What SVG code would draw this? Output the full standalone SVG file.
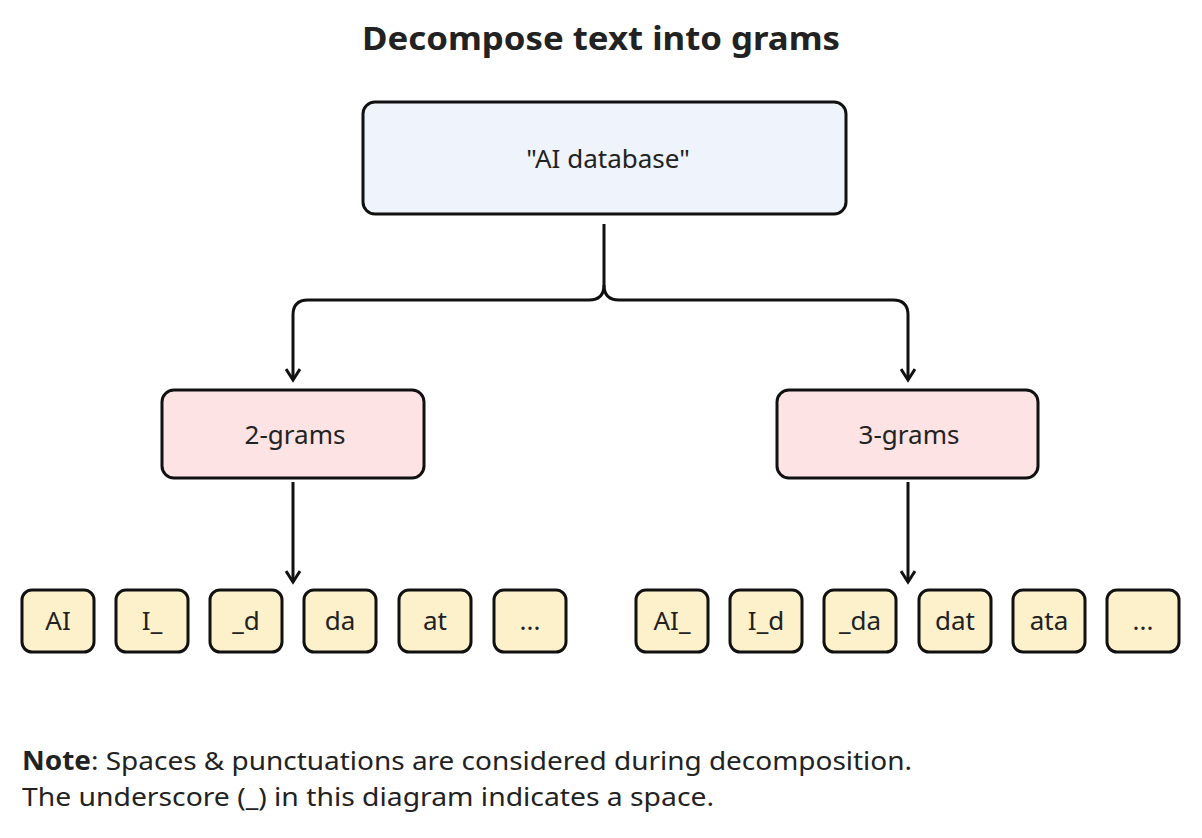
<svg xmlns="http://www.w3.org/2000/svg" width="1202" height="838" viewBox="0 0 1202 838">
<style>
text{font-family:"Noto Sans","Liberation Sans",sans-serif;fill:#222}
.t{font-size:26px;text-anchor:middle;dominant-baseline:central}
.g{fill:#fdf1cc;stroke:#111;stroke-width:3}
.c{fill:none;stroke:#111;stroke-width:3}
</style>
<defs><marker id="a" markerWidth="16" markerHeight="16" refX="12" refY="8" orient="auto" markerUnits="userSpaceOnUse"><path d="M1,1 L12,8 L1,15" fill="none" stroke="#111" stroke-width="3"/></marker></defs>
<text x="601" y="37" class="t" style="font-size:33px;font-weight:bold" textLength="478" lengthAdjust="spacingAndGlyphs">Decompose text into grams</text>
<g id="connectors">
<path class="c" d="M604,224 V285 Q604,300 589,300 H308 Q293,300 293,315 V380" marker-end="url(#a)"/>
<path class="c" d="M604,285 Q604,300 619,300 H893 Q908,300 908,315 V380" marker-end="url(#a)"/>
<path class="c" d="M293,482 V582" marker-end="url(#a)"/>
<path class="c" d="M908,482 V582" marker-end="url(#a)"/>
</g>
<g id="root"><rect x="363" y="102" width="483" height="112" rx="12" fill="#eef3fc" stroke="#111" stroke-width="3"/><text x="608" y="158" class="t">"AI database"</text></g>
<g id="n2"><rect x="162" y="390" width="262" height="88" rx="12" fill="#fde3e3" stroke="#111" stroke-width="3"/><text x="295" y="434" class="t">2-grams</text></g>
<g id="n3"><rect x="777" y="390" width="261" height="88" rx="12" fill="#fde3e3" stroke="#111" stroke-width="3"/><text x="909" y="434" class="t">3-grams</text></g>
<g id="l1"><rect class="g" x="22" y="590" width="72" height="62" rx="10"/><text x="58" y="620" class="t">AI</text></g>
<g id="l2"><rect class="g" x="116" y="590" width="72" height="62" rx="10"/><text x="152" y="620" class="t">I_</text></g>
<g id="l3"><rect class="g" x="210" y="590" width="72" height="62" rx="10"/><text x="246" y="620" class="t">_d</text></g>
<g id="l4"><rect class="g" x="304" y="590" width="72" height="62" rx="10"/><text x="340" y="620" class="t">da</text></g>
<g id="l5"><rect class="g" x="399" y="590" width="72" height="62" rx="10"/><text x="435" y="620" class="t">at</text></g>
<g id="l6"><rect class="g" x="494" y="590" width="72" height="62" rx="10"/><text x="530" y="620" class="t">...</text></g>
<g id="r1"><rect class="g" x="636" y="590" width="72" height="62" rx="10"/><text x="672" y="620" class="t">AI_</text></g>
<g id="r2"><rect class="g" x="730" y="590" width="72" height="62" rx="10"/><text x="766" y="620" class="t">I_d</text></g>
<g id="r3"><rect class="g" x="824" y="590" width="72" height="62" rx="10"/><text x="860" y="620" class="t">_da</text></g>
<g id="r4"><rect class="g" x="919" y="590" width="72" height="62" rx="10"/><text x="955" y="620" class="t">dat</text></g>
<g id="r5"><rect class="g" x="1013" y="590" width="72" height="62" rx="10"/><text x="1049" y="620" class="t">ata</text></g>
<g id="r6"><rect class="g" x="1107" y="590" width="72" height="62" rx="10"/><text x="1143" y="620" class="t">...</text></g>
<text x="22" y="770" style="font-size:26px" textLength="890" lengthAdjust="spacingAndGlyphs"><tspan font-weight="bold">Note</tspan>: Spaces &amp; punctuations are considered during decomposition.</text>
<text x="22" y="806" style="font-size:26px" textLength="692" lengthAdjust="spacingAndGlyphs">The underscore (_) in this diagram indicates a space.</text>
</svg>
